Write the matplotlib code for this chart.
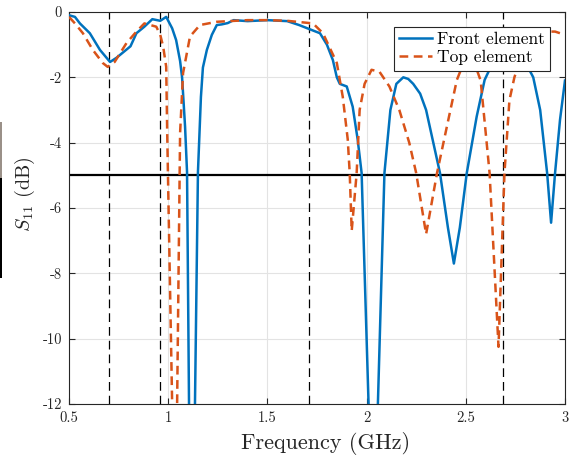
import matplotlib
matplotlib.use('Agg')
import matplotlib.pyplot as plt
from matplotlib.patches import Rectangle

plt.rcParams['font.family'] = 'serif'
plt.rcParams['font.serif'] = ['cmr10', 'DejaVu Serif']
plt.rcParams['mathtext.fontset'] = 'cm'
plt.rcParams['axes.unicode_minus'] = False

# Front element S11 (dB)
front_f = [0.50, 0.53, 0.555, 0.605, 0.656, 0.707, 0.74, 0.77, 0.81, 0.84, 0.88,
           0.92, 0.96, 0.99, 1.02, 1.04, 1.06, 1.07, 1.085, 1.095, 1.105, 1.12,
           1.135, 1.15, 1.165, 1.175, 1.195, 1.22, 1.245, 1.27, 1.30, 1.33, 1.40,
           1.50, 1.60, 1.66, 1.71, 1.765, 1.80, 1.83, 1.85, 1.865, 1.90, 1.93,
           1.955, 1.975, 2.01, 2.035, 2.057, 2.09, 2.12, 2.15, 2.185, 2.21, 2.235,
           2.27, 2.30, 2.37, 2.41, 2.44, 2.47, 2.505, 2.555, 2.595, 2.64, 2.71,
           2.78, 2.84, 2.875, 2.91, 2.93, 2.95, 2.975, 3.0]
front_s = [-0.10, -0.15, -0.35, -0.65, -1.16, -1.53, -1.40, -1.25, -1.05, -0.65, -0.45,
           -0.22, -0.27, -0.15, -0.50, -0.86, -1.50, -2.00, -3.50, -4.90, -12.0, -15.0,
           -12.0, -4.90, -2.60, -1.70, -1.16, -0.70, -0.40, -0.38, -0.34, -0.25, -0.28,
           -0.25, -0.28, -0.40, -0.52, -0.65, -1.00, -1.47, -2.00, -2.20, -2.28, -2.90,
           -3.90, -4.93, -12.0, -15.0, -12.0, -4.93, -3.00, -2.20, -2.00, -2.05, -2.20,
           -2.50, -3.00, -4.93, -6.60, -7.70, -6.60, -4.93, -3.20, -2.08, -1.50, -1.10,
           -1.30, -2.00, -3.00, -4.93, -6.45, -4.93, -3.30, -2.10]

# Top element S11 (dB)
top_f = [0.50, 0.53, 0.57, 0.62, 0.67, 0.695, 0.73, 0.79, 0.84, 0.88, 0.91, 0.94,
         0.96, 0.975, 0.99, 0.995, 1.02, 1.03, 1.045, 1.06, 1.075, 1.11, 1.16, 1.245,
         1.40, 1.50, 1.60, 1.73, 1.78, 1.85, 1.88, 1.905, 1.915, 1.925, 1.95, 1.965,
         1.99, 2.025, 2.065, 2.115, 2.165, 2.215, 2.25, 2.30, 2.355, 2.405, 2.455,
         2.50, 2.54, 2.575, 2.62, 2.665, 2.695, 2.72, 2.745, 2.80, 2.88, 2.95, 3.0]
top_s = [-0.15, -0.35, -0.65, -1.16, -1.56, -1.68, -1.53, -0.95, -0.60, -0.35, -0.40, -0.45,
         -0.70, -1.07, -1.68, -3.70, -12.0, -14.0, -12.0, -3.70, -1.87, -0.75, -0.40, -0.30,
         -0.25, -0.25, -0.27, -0.35, -0.65, -1.56, -2.60, -3.90, -4.93, -6.70, -4.93, -3.00,
         -2.20, -1.77, -1.83, -2.28, -3.00, -4.00, -4.93, -6.80, -4.93, -3.50, -2.08,
         -1.40, -1.50, -2.10, -4.93, -10.25, -4.93, -2.70, -2.00, -1.00, -0.60, -0.60, -0.70]

marker_f = [0.70, 0.96, 1.71, 2.69]
threshold = -5

xticks = [0.5, 1, 1.5, 2, 2.5, 3]
xtick_labels = ['0.5', '1', '1.5', '2', '2.5', '3']
yticks = [0, -2, -4, -6, -8, -10, -12]
ytick_labels = ['0', '-2', '-4', '-6', '-8', '-10', '-12']

fig = plt.figure(figsize=(5.73, 4.59), dpi=100)
ax = fig.add_axes([0.1204, 0.1198, 0.8656, 0.8541])

for f in marker_f:
    ax.axvline(f, color='black', lw=0.9, ls=(0, (7, 4)), zorder=2)
ax.axhline(threshold, color='black', lw=1.6, zorder=2)

ax.plot(front_f, front_s, color='#0072BD', lw=1.8, label='Front element', zorder=3)
ax.plot(top_f, top_s, color='#D95319', lw=1.8, ls=(0, (3.5, 2.2)), label='Top element', zorder=3)

ax.set_xlim(0.5, 3)
ax.set_ylim(-12, 0)
ax.set_xticks(xticks)
ax.set_xticklabels(xtick_labels)
ax.set_yticks(yticks)
ax.set_yticklabels(ytick_labels)
ax.tick_params(direction='in', labelsize=10.5, colors='#262626', length=4, top=True, right=True, pad=5)
ax.grid(True, color='#e3e3e3', lw=0.8)
ax.set_axisbelow(True)
for sp in ax.spines.values():
    sp.set_color('#262626')
    sp.set_linewidth(0.8)

ax.set_xlabel('Frequency (GHz)', fontsize=16, color='#262626')
ax.xaxis.set_label_coords(0.518, -0.072)
ax.set_ylabel('$S_{11}$ (dB)', fontsize=14.5, color='#262626')
ax.yaxis.set_label_coords(-0.064, 0.535)

leg = ax.legend(loc='upper right', bbox_to_anchor=(0.970, 0.962), borderaxespad=0,
                fancybox=False, edgecolor='#262626', framealpha=1, fontsize=12.5,
                handlelength=1.9, borderpad=0.3, labelspacing=0.15, handletextpad=0.3)
leg.get_frame().set_linewidth(0.8)

# dark strip at the far left edge of the original image
fig.patches.append(Rectangle((0, 1 - 278 / 459), 2 / 573, 100 / 459,
                             transform=fig.transFigure, color='black', lw=0))
fig.patches.append(Rectangle((0, 1 - 178 / 459), 2 / 573, 56 / 459,
                             transform=fig.transFigure, color='#9a9088', lw=0))

fig.savefig('out.png', dpi=100)
